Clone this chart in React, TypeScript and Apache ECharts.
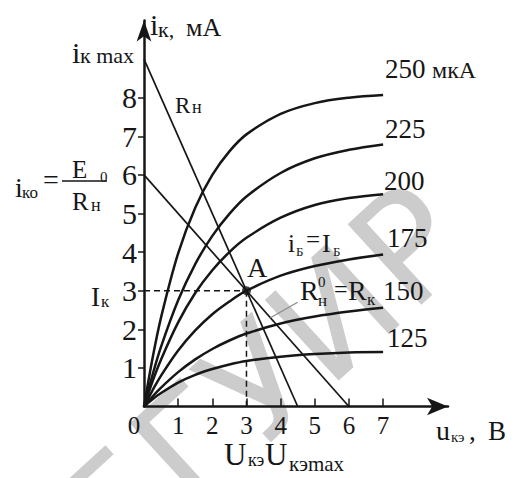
import React, { useEffect, useRef } from 'react';
import * as echarts from 'echarts';

// ---- data ----
const uValues = [0, 0.25, 0.5, 1, 1.5, 2, 2.5, 3, 4, 5, 6, 7];
const baseCurrents = ['250', '225', '200', '175', '150', '125'];
const i250 = [0, 1.25, 2.31, 3.97, 5.15, 6.0, 6.61, 7.05, 7.58, 7.86, 8.0, 8.07];
const i225 = [0, 0.82, 1.55, 2.75, 3.69, 4.42, 4.99, 5.44, 6.05, 6.43, 6.65, 6.79];
const i200 = [0, 0.65, 1.22, 2.18, 2.94, 3.53, 4.0, 4.37, 4.89, 5.22, 5.4, 5.5];
const i175 = [0, 0.42, 0.8, 1.45, 1.97, 2.39, 2.72, 3.0, 3.39, 3.64, 3.81, 3.94];
const i150 = [0, 0.26, 0.49, 0.89, 1.22, 1.49, 1.71, 1.89, 2.15, 2.33, 2.46, 2.56];
const i125 = [0, 0.19, 0.35, 0.62, 0.82, 0.97, 1.09, 1.18, 1.29, 1.36, 1.4, 1.41];
const curves = [i250, i225, i200, i175, i150, i125];

const loadLineRn = [[0, 9], [4.5, 0]];
const loadLineR0 = [[0, 6], [6, 0]];
const pointA = [3, 3];
const leader = [[3.7, 2.3], [4.5, 2.7]];

const xTickValues = [1, 2, 3, 4, 5, 6, 7];
const xLabelValues = [0, 1, 2, 3, 4, 5, 6, 7];
const yTickValues = [1, 2, 3, 4, 5, 6, 7, 8];

const FONT = '"Liberation Serif", "Times New Roman", serif';
const INK = '#161616';

function T(x: number, base: number, text: string, fs: number) {
  return {
    type: 'text',
    x,
    y: base - 0.3375 * fs,
    z: 100,
    silent: true,
    style: { text, fontSize: fs, fontFamily: FONT, fill: INK, align: 'left', verticalAlign: 'middle' },
  };
}

function buildOption() {
  const curveSeries = curves.map((arr, k) => ({
    name: baseCurrents[k],
    type: 'line',
    data: uValues.map((u, j) => [u, arr[j]]),
    smooth: 0.35,
    showSymbol: false,
    silent: true,
    z: 3,
    lineStyle: { color: INK, width: 2.5 },
  }));
  const lineSeries = (data: number[][], width: number, color = INK, type: any = 'solid') => ({
    type: 'line',
    data,
    showSymbol: false,
    silent: true,
    z: 3,
    lineStyle: { color, width, type },
  });
  const annotations = [
    {
      type: 'text', z: 0, silent: true, x: 262, y: 380, rotation: 0.74,
      style: { text: 'БГУИР', fontSize: 150, fontFamily: '"DejaVu Sans", sans-serif', fill: '#cccccc', align: 'center', verticalAlign: 'middle' },
    },
    T(150, 35, 'i', 30), T(158, 37, 'к,', 22), T(186, 36, 'мА', 26),
    T(72, 63, 'i', 30), T(80, 63, 'к max', 22),
    T(175, 113, 'R', 23), T(192, 113, 'н', 18),
    T(15, 197, 'i', 28), T(22, 198, 'ко', 17), T(43, 189, '=', 28),
    T(72, 178, 'E', 25), T(100, 182, '0', 15),
    T(72, 210, 'R', 25), T(91, 211, 'н', 18),
    T(91, 306, 'I', 27), T(101, 307, 'к', 17),
    T(247, 277, 'A', 28),
    T(288, 252, 'i', 25), T(296, 256, 'Б', 13), T(306, 248, '=', 25), T(322, 252, 'I', 26), T(333, 256, 'Б', 13),
    T(300, 300, 'R', 28), T(318, 287, '0', 15), T(318, 306, 'н', 17), T(334, 297, '=', 24), T(348, 300, 'R', 28), T(367, 305, 'к', 17),
    T(385, 78, baseCurrents[0], 27), T(432, 78, 'мкА', 24),
    T(385, 138, baseCurrents[1], 27),
    T(384, 190, baseCurrents[2], 27),
    T(387, 247, baseCurrents[3], 27),
    T(383, 300, baseCurrents[4], 27),
    T(387, 347, baseCurrents[5], 27),
    T(436, 440, 'u', 28), T(451, 442, 'кэ', 15), T(469, 440, ',', 27), T(488, 440, 'B', 27),
    T(224, 465, 'U', 31), T(248, 466, 'кэ', 18), T(265, 465, 'U', 31), T(289, 471, 'кэmax', 21),
    {
      type: 'line', z: 100, silent: true,
      shape: { x1: 62, y1: 181, x2: 107, y2: 181 },
      style: { stroke: INK, lineWidth: 1.5 },
    },
  ];
  return {
    animation: false,
    backgroundColor: '#ffffff',
    grid: { left: 144, top: 20.5, width: 304, height: 386 },
    xAxis: {
      type: 'value', min: 0, max: 8.9,
      splitLine: { show: false },
      axisLine: { show: true, symbol: ['none', 'arrow'], symbolSize: [13, 21], lineStyle: { color: INK, width: 2.5 } },
      axisTick: { show: true, inside: true, length: 8, customValues: xTickValues, lineStyle: { color: INK, width: 1.5 } },
      axisLabel: {
        customValues: xLabelValues, margin: 6, fontSize: 25, fontFamily: FONT, color: INK,
        formatter: (v: number) => (v === 0 ? '{z|0}' : String(v)),
        rich: { z: { padding: [0, 20, 0, 0], fontSize: 25, fontFamily: FONT, color: INK } },
      },
    },
    yAxis: {
      type: 'value', min: 0, max: 10,
      splitLine: { show: false },
      axisLine: { show: true, symbol: ['none', 'arrow'], symbolSize: [11, 21], lineStyle: { color: INK, width: 2.5 } },
      axisTick: { show: true, inside: false, length: 6, customValues: yTickValues, lineStyle: { color: INK, width: 1.5 } },
      axisLabel: { customValues: yTickValues, margin: 7, fontSize: 30, fontFamily: FONT, color: INK },
    },
    graphic: { elements: annotations },
    series: [
      ...curveSeries,
      lineSeries(loadLineRn, 1.7),
      lineSeries(loadLineR0, 1.7),
      lineSeries([[0, pointA[1]], pointA], 1.5, INK, [6, 4]),
      lineSeries([pointA, [pointA[0], 0]], 1.5, INK, [6, 4]),
      lineSeries(leader, 1.2, '#8a8a8a'),
      { type: 'scatter', data: [pointA], symbolSize: 9, itemStyle: { color: INK }, silent: true, z: 4 },
    ],
  };
}

export default function App() {
  const ref = useRef<HTMLDivElement>(null);
  useEffect(() => {
    const chart = echarts.init(ref.current!, null, { renderer: 'svg' });
    chart.setOption(buildOption() as any);
    return () => chart.dispose();
  }, []);
  return (
    <div
      ref={ref}
      style={{ position: 'fixed', left: 0, top: 0, width: 520, height: 478, background: '#fff' }}
    />
  );
}
